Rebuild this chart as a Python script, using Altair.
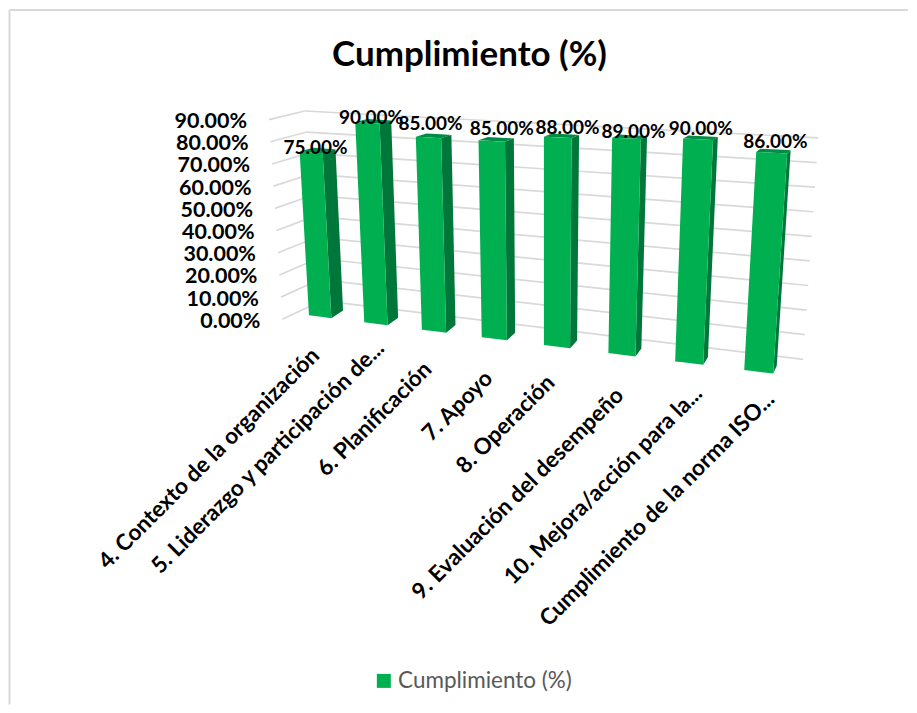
import altair as alt
import pandas as pd

# ---- data
categories = ["4. Contexto de la organización", "5. Liderazgo y participación de...",
              "6. Planificación", "7. Apoyo", "8. Operación", "9. Evaluación del desempeño",
              "10. Mejora/acción para la...", "Cumplimiento de la norma ISO..."]
values = [75, 90, 85, 85, 88, 89, 90, 86]
ticks = [0, 10, 20, 30, 40, 50, 60, 70, 80, 90]
series = "Cumplimiento (%)"
title = "Cumplimiento (%)"

# ---- look of the excel-style 3-D view
FRONT, SIDE, TOP, GRID = "#00B050", "#00773A", "#008C46", "#D9D9D9"
FONT = "Lato"
VMAX = 90.0
BAR_W = 0.41
label_nudge = [(4.4, -5), (3.7, -5.7), (2, -14), (10, -12), (9.7, -10.3), (7, -7), (2.7, -10.5), (3.7, -11.3)]
cat_nudge = [(-4.4, 35.3), (4.7, 21), (-6, 34.8), (-5.5, 36.2), (-6, 32.5), (-2, 37.3), (9.5, 27), (12, 24)]

# ---- projection: category position s, value v, depth d
def project(s, v, d=0.0):
    t = v / VMAX
    bx = 309.3 + 54.2 * s + 1.15 * s * s
    by = 315.3 + 6.9 * s + 0.13 * s * s
    tx = 298.1 + 56.2 * s + 1.35 * s * s
    ty = 118.5 + 3.3 * s
    x = bx + (tx - bx) * t
    y = by + (ty - by) * t
    ox = (12.2 - 1.17 * s) * (1 - t) + (13.5 - 1.35 * s) * t
    oy = -7.7 * (1 - t) - 3.0 * t
    return x + ox * d, y + oy * d

def wall(v):
    t = v / VMAX
    left = (282.7 - 13.4 * t, 319.3 - 200.0 * t)
    corner = (322.0 - 17.0 * t, 300.6 - 189.9 * t)
    right = (804.0 + 15.3 * t, 359.3 - 221.6 * t)
    return left, corner, right

def quad_rows(pts, key, fill):
    xs = sorted({round(p[0], 3) for p in pts})
    rows = []
    n = len(pts)
    for x in xs:
        ys = []
        for i in range(n):
            (x0, y0), (x1, y1) = pts[i], pts[(i + 1) % n]
            lo, hi = min(x0, x1), max(x0, x1)
            if lo - 0.002 <= x <= hi + 0.002:
                if abs(x1 - x0) < 1e-6:
                    ys += [y0, y1]
                else:
                    ys.append(y0 + (y1 - y0) * (x - x0) / (x1 - x0))
        rows.append({"x": x, "y": min(ys), "y2": max(ys), "key": key, "fill": fill, "series": series})
    return rows

front, faces, value_rows, cat_rows = [], [], [], []
for i, (c, v) in enumerate(zip(categories, values)):
    l, r = float(i), i + BAR_W
    tl, tr, bl, br = project(l, v), project(r, v), project(l, 0), project(r, 0)
    trb, tlb, brb = project(r, v, 1), project(l, v, 1), project(r, 0, 1)
    front += quad_rows([tl, tr, br, bl], f"f{i}", FRONT)
    faces += quad_rows([tr, trb, brb, br], f"s{i}", SIDE)
    faces += quad_rows([tl, tr, trb, tlb], f"t{i}", TOP)
    nx, ny = label_nudge[i]
    value_rows.append({"x": (tl[0] + tr[0]) / 2 + nx, "y": (tl[1] + tr[1]) / 2 + ny + 0.5, "text": f"{v:.2f}%"})
    mx, my = (bl[0] + br[0]) / 2, (bl[1] + br[1]) / 2
    ax, ay = cat_nudge[i]
    cat_rows.append({"x": mx + ax, "y": my + ay, "text": c})

grid_rows, tick_rows = [], []
for v in ticks:
    left, corner, right = wall(v)
    grid_rows.append({"x": left[0], "y": left[1], "x2": corner[0], "y2": corner[1]})
    grid_rows.append({"x": corner[0], "y": corner[1], "x2": right[0], "y2": right[1]})
    tick_rows.append({"x": left[0] - 22, "y": left[1] + 2.5, "text": f"{v:.2f}%"})

W, H = 901, 697
X = alt.Scale(domain=[8, 8 + W], range=[0, W])
Y = alt.Scale(domain=[8, 8 + H], range=[0, H])
x = alt.X("x:Q", scale=X, axis=None)
y = alt.Y("y:Q", scale=Y, axis=None)

border = alt.Chart(pd.DataFrame([
    {"x": 9.5, "y": 9.5, "x2": 909, "y2": 9.5},
    {"x": 9.5, "y": 9.5, "x2": 9.5, "y2": 705},
])).mark_rule(color=GRID, strokeWidth=2).encode(x=x, y=y, x2="x2:Q", y2="y2:Q")

grid = alt.Chart(pd.DataFrame(grid_rows)).mark_rule(color=GRID, strokeWidth=1.7).encode(
    x=x, y=y, x2="x2:Q", y2="y2:Q")

side_top = alt.Chart(pd.DataFrame(faces)).mark_area(interpolate="linear").encode(
    x=x, y=y, y2="y2:Q", detail="key:N", fill=alt.Fill("fill:N", scale=None))

bars = alt.Chart(pd.DataFrame(front)).mark_area(interpolate="linear").encode(
    x=x, y=y, y2="y2:Q", detail="key:N",
    fill=alt.Fill("series:N", scale=alt.Scale(domain=[series], range=[FRONT]),
                  legend=alt.Legend(title=None, orient="none", legendX=365, legendY=662,
                                    symbolType="square", symbolSize=196, symbolStrokeWidth=0,
                                    labelFont=FONT, labelFontSize=22.5, labelColor="#595959",
                                    labelOffset=3, labelLimit=300)))

tick_text = alt.Chart(pd.DataFrame(tick_rows)).mark_text(
    font=FONT, fontWeight="bold", fontSize=21.5, align="right", baseline="middle", color="#000000"
).encode(x=x, y=y, text="text:N")

value_text = alt.Chart(pd.DataFrame(value_rows)).mark_text(
    font=FONT, fontWeight="bold", fontSize=19, align="center", baseline="middle", color="#000000"
).encode(x=x, y=y, text="text:N")

cat_text = alt.Chart(pd.DataFrame(cat_rows)).mark_text(
    font=FONT, fontWeight="bold", fontSize=22.5, align="right", baseline="middle", angle=315, color="#000000"
).encode(x=x, y=y, text="text:N")

title_text = alt.Chart(pd.DataFrame([{"x": 470, "y": 55, "text": title}])).mark_text(
    font=FONT, fontWeight="bold", fontSize=35, align="center", baseline="middle", color="#000000"
).encode(x=x, y=y, text="text:N")

chart = alt.layer(border, grid, side_top, bars, tick_text, value_text, cat_text, title_text).properties(
    width=W, height=H, padding=0, background="white"
).configure_view(stroke=None)

chart.save("out.html", embed_options={"renderer": "svg", "actions": False})
